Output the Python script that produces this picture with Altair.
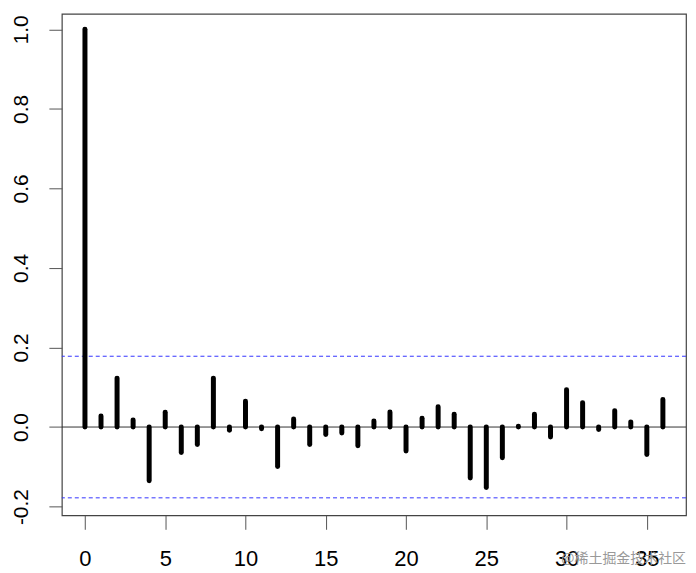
import altair as alt
import pandas as pd

lags = list(range(37))
acf_values = [1.0, 0.028, 0.123, 0.018, -0.135, 0.037, -0.064, -0.044, 0.123, -0.008,
              0.065, -0.004, -0.099, 0.020, -0.044, -0.019, -0.015, -0.047, 0.015, 0.038,
              -0.060, 0.022, 0.051, 0.032, -0.128, -0.152, -0.077, 0.002, 0.032, -0.025,
              0.094, 0.061, -0.006, 0.041, 0.013, -0.069, 0.069]
conf_limits = [0.178, -0.178]
x_ticks = [0, 5, 10, 15, 20, 25, 30, 35]
y_ticks = [-0.2, 0.0, 0.2, 0.4, 0.6, 0.8, 1.0]
watermark = "@稀土掘金技术社区"

df = pd.DataFrame({"lag": lags, "acf": acf_values, "zero": [0.0] * len(lags)})
conf_df = pd.DataFrame({"limit": conf_limits})
zero_df = pd.DataFrame({"y": [0.0]})

font = "Liberation Sans"

x_scale = alt.Scale(domain=[-1.44, 37.44], nice=False, zero=False)
y_scale = alt.Scale(domain=[-0.222, 1.039], nice=False, zero=False)

x_axis = alt.Axis(values=x_ticks, title=None, grid=False, domain=False, tickSize=14,
                  tickColor="#555555", labelFontSize=22, labelFont=font, labelColor="#000000",
                  labelPadding=19, labelAngle=0, labelFlush=False)
y_axis = alt.Axis(values=y_ticks, title=None, grid=False, domain=False, tickSize=13,
                  tickColor="#555555", labelFontSize=21, labelFont=font, labelColor="#000000",
                  labelAngle=270, labelAlign="center", labelBaseline="alphabetic",
                  labelPadding=21,
                  labelExpr="datum.value < 0 ? '-' + format(-datum.value, '.1f') : format(datum.value, '.1f')")

bars = alt.Chart(df).mark_rule(strokeWidth=5, strokeCap="round", color="black").encode(
    x=alt.X("lag:Q", scale=x_scale, axis=x_axis),
    y=alt.Y("zero:Q", scale=y_scale, axis=y_axis),
    y2="acf:Q",
)

zero_line = alt.Chart(zero_df).mark_rule(color="#333333", strokeWidth=1).encode(
    y=alt.Y("y:Q", scale=y_scale)
)

conf = alt.Chart(conf_df).mark_rule(color="#3333ff", strokeWidth=1, strokeDash=[4, 3]).encode(
    y=alt.Y("limit:Q", scale=y_scale)
)

wm = alt.Chart(pd.DataFrame({"t": [watermark]})).mark_text(
    fontSize=14, font="Noto Sans CJK SC", color="#999999", align="right", baseline="middle"
).encode(text="t:N", x=alt.value(626), y=alt.value(547))

chart = alt.layer(zero_line, conf, bars, wm).properties(
    width=626, height=503,
    autosize=alt.AutoSizeParams(type="none"),
    padding={"left": 54, "top": 5, "right": 2, "bottom": 56},
).configure_view(stroke="#444444", strokeWidth=1.2)

chart.save("out.html", embed_options={"renderer": "svg", "actions": False})
